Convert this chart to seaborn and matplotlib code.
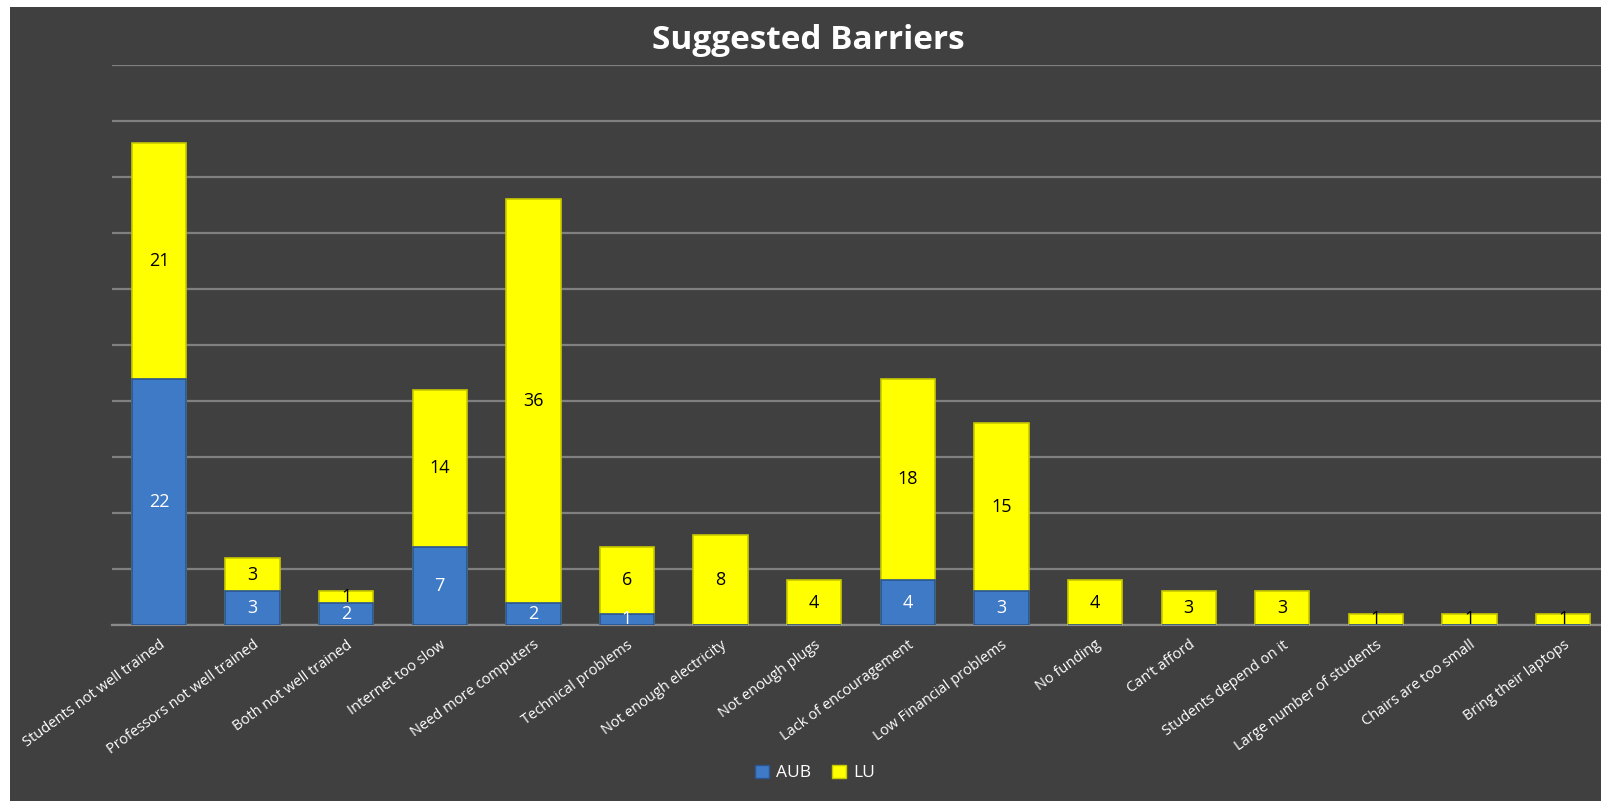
import matplotlib
matplotlib.use("Agg")
import matplotlib.pyplot as plt
import seaborn as sns
import pandas as pd
from matplotlib.patches import Rectangle, Patch

categories = ["Students not well trained", "Professors not well trained", "Both not well trained",
              "Internet too slow", "Need more computers", "Technical problems",
              "Not enough electricity", "Not enough plugs", "Lack of encouragement",
              "Low Financial problems", "No funding", "Can\u2019t afford", "Students depend on it",
              "Large number of students", "Chairs are too small", "Bring their laptops"]
aub = [22, 3, 2, 7, 2, 1, 0, 0, 4, 3, 0, 0, 0, 0, 0, 0]
lu = [21, 3, 1, 14, 36, 6, 8, 4, 18, 15, 4, 3, 3, 1, 1, 1]
series_names = ["AUB", "LU"]

BG = "#404040"
BLUE = "#3F7AC6"
YELLOW = "#FFFF00"

sns.set_theme(style="dark")
plt.rcParams['font.family'] = ['Open Sans', 'DejaVu Sans']

df = pd.DataFrame({"cat": categories, "AUB": aub, "LU": lu})
df["total"] = df["AUB"] + df["LU"]

fig = plt.figure(figsize=(16.01, 8.01), dpi=100)
fig.patch.set_facecolor("white")
fig.patches.append(Rectangle((10 / 1601, 0), 1, 1 - 7 / 801, transform=fig.transFigure,
                             facecolor=BG, edgecolor="none", zorder=-10))

ax = fig.add_axes([0.07, 0.2197, 0.9356, 0.6991])
ax.set_facecolor(BG)

sns.barplot(data=df, x="cat", y="total", color=YELLOW, saturation=1, width=0.58,
            edgecolor="#C8C800", linewidth=1.2, ax=ax, zorder=3)
sns.barplot(data=df, x="cat", y="AUB", color=BLUE, saturation=1, width=0.58,
            edgecolor="#2A5590", linewidth=1.2, ax=ax, zorder=4)

ax.set_ylim(0, 50)
ax.set_xlim(-0.5, len(categories) - 0.5)
ax.set_yticks(range(0, 51, 5))
ax.set_yticklabels([])
ax.yaxis.grid(True, color="#808080", linewidth=1.6, zorder=0)
ax.xaxis.grid(False)
ax.set_axisbelow(True)
for s in ["top", "right", "left"]:
    ax.spines[s].set_visible(False)
ax.spines["bottom"].set_color("#8a8a8a")
ax.spines["bottom"].set_linewidth(1.6)
ax.tick_params(axis="both", length=0)
ax.set_xlabel("")
ax.set_ylabel("")

ax.set_xticks(range(len(categories)))
ax.set_xticklabels(categories, rotation=36, ha="right", va="top", rotation_mode="anchor",
                   color="white", fontsize=10.5)
ax.tick_params(axis="x", pad=9)

for i, (a, l) in enumerate(zip(aub, lu)):
    if a > 0:
        ax.text(i, a / 2, str(a), ha="center", va="center", color="white", fontsize=13, zorder=6)
    if l > 0:
        ax.text(i, a + l / 2, str(l), ha="center", va="center", color="black", fontsize=13, zorder=6)

fig.text(0.505, 0.949, "Suggested Barriers", ha="center", va="center", color="white",
         fontsize=24, fontweight="bold")

handles = [Patch(facecolor=BLUE, edgecolor="#2A5590"), Patch(facecolor=YELLOW, edgecolor="#C8C800")]
leg = fig.legend(handles, series_names, loc="center", bbox_to_anchor=(0.509, 0.035), ncol=2,
                 frameon=False, fontsize=12.5, handlelength=0.8, handleheight=0.8,
                 handletextpad=0.4, columnspacing=1.2)
for t in leg.get_texts():
    t.set_color("white")

fig.savefig("out.png", dpi=100, facecolor=fig.get_facecolor())
